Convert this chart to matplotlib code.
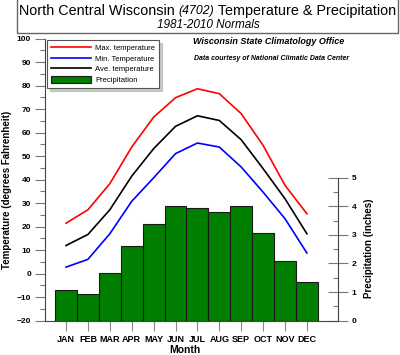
import matplotlib.pyplot as plt
from matplotlib.lines import Line2D
from matplotlib.patches import Patch, Rectangle
from matplotlib.ticker import MultipleLocator

months = ['JAN', 'FEB', 'MAR', 'APR', 'MAY', 'JUN', 'JUL', 'AUG', 'SEP', 'OCT', 'NOV', 'DEC']
month_num = list(range(1, 13))
max_temp = [21.5, 27.2, 38.3, 53.9, 66.6, 74.9, 78.7, 76.6, 68.1, 54.6, 37.6, 25.5]
min_temp = [2.8, 6.1, 17.0, 30.8, 40.8, 51.1, 55.6, 53.9, 45.4, 34.7, 23.4, 8.8]
ave_temp = [12.0, 16.7, 27.2, 41.5, 53.2, 62.7, 67.2, 65.2, 57.0, 44.7, 31.9, 17.0]
precip = [1.09, 0.94, 1.67, 2.61, 3.38, 4.02, 3.95, 3.81, 4.00, 3.08, 2.09, 1.35]

W, H = 400, 355
plt.rcParams['font.family'] = ['Liberation Sans', 'DejaVu Sans']

fig = plt.figure(figsize=(W / 100, H / 100), dpi=100)
fig.patch.set_facecolor('white')


def fx(px):
    return px / W


def fy(py):
    return 1 - py / H


ax = fig.add_axes([fx(45), fy(320.7), 293 / W, 282 / H])
ax2 = ax.twinx()
ax.set_zorder(ax2.get_zorder() + 1)
ax.patch.set_visible(False)

# temperatures
ax.plot(month_num, max_temp, color='red', lw=1.2)
ax.plot(month_num, ave_temp, color='black', lw=1.2)
ax.plot(month_num, min_temp, color='blue', lw=1.2)
ax.set_xlim(0.04, 13.42)
ax.set_ylim(-20, 100)

for s in ['top', 'right']:
    ax.spines[s].set_visible(False)
ax.spines['left'].set_color('#444444')
ax.spines['bottom'].set_color('#444444')
ax.yaxis.set_major_locator(MultipleLocator(10))
ax.yaxis.set_minor_locator(MultipleLocator(5))
ax.tick_params(axis='y', which='major', direction='out', length=7, width=0.8,
               color='#777777', labelsize=6, pad=3)
ax.tick_params(axis='y', which='minor', direction='out', length=3.5, width=0.8,
               color='#777777')
for lab in ax.get_yticklabels():
    lab.set_fontweight('bold')
ax.set_xticks(month_num)
ax.set_xticklabels(months, fontsize=6.5, fontweight='bold')
ax.tick_params(axis='x', direction='out', length=7, width=0.8, color='#888888', pad=3)

# precipitation
ax2.bar(month_num, precip, width=1.0, color='#007f00', edgecolor='#1a1a1a', lw=0.8)
ax2.set_ylim(0, 9.86)
for s in ['top', 'left', 'bottom']:
    ax2.spines[s].set_visible(False)
ax2.spines['right'].set_bounds(0, 5)
ax2.spines['right'].set_color('#444444')
ax2.set_yticks([0, 1, 2, 3, 4, 5])
ax2.set_yticks([0.5, 1.5, 2.5, 3.5, 4.5], minor=True)
ax2.tick_params(axis='y', which='major', direction='inout', length=14, width=0.8,
                color='#777777', labelsize=6, pad=3)
ax2.tick_params(axis='y', which='minor', direction='in', length=3.5, width=0.8,
                color='#777777')
for lab in ax2.get_yticklabels():
    lab.set_fontweight('bold')

# axis titles
fig.text(fx(7), fy(190), 'Temperature (degrees Fahrenheit)', rotation=90,
         ha='center', va='center', fontsize=7, fontweight='bold')
fig.text(fx(369), fy(248), 'Precipitation (inches)', rotation=90,
         ha='center', va='center', fontsize=7, fontweight='bold')
fig.text(fx(185), fy(350), 'Month', ha='center', va='center', fontsize=7.5,
         fontweight='bold')

# credits
fig.text(fx(269), fy(42), 'Wisconsin State Climatology Office', ha='center',
         va='center', fontsize=6.5, fontweight='bold', style='italic')
fig.text(fx(272), fy(58), 'Data courtesy of National Climatic Data Center',
         ha='center', va='center', fontsize=5, fontweight='bold', style='italic')

# title box
fig.patches.append(Rectangle((fx(16.7), fy(32.7)), (398 - 16.7) / W, 40 / H,
                             transform=fig.transFigure, fill=False,
                             edgecolor='#666666', lw=1))
renderer = fig.canvas.get_renderer()
parts = [('North Central Wisconsin ', 'normal', 10.4),
         ('(4702)', 'italic', 8.8),
         (' Temperature & Precipitation', 'normal', 10.4)]
x = 19
for txt, st, fs in parts:
    t = fig.text(fx(x), fy(11), txt, ha='left', va='center', fontsize=fs, style=st)
    bb = t.get_window_extent(renderer)
    x += bb.width
fig.text(fx(208), fy(25), '1981-2010 Normals', ha='center', va='center',
         fontsize=8.5, style='italic')

# legend
handles = [Line2D([], [], color='red', lw=1.2),
           Line2D([], [], color='blue', lw=1.2),
           Line2D([], [], color='black', lw=1.2),
           Patch(facecolor='#007f00', edgecolor='#1a1a1a', lw=0.8)]
labels = ['Max. temperature', 'Min. Temperature', 'Ave. temperature', 'Precipitation']
leg = ax.legend(handles, labels, loc='upper left', bbox_to_anchor=(fx(47), fy(40)),
                bbox_transform=fig.transFigure, borderaxespad=0, fontsize=5.5,
                handlelength=5.2, handleheight=1.0, labelspacing=0.35,
                fancybox=False, shadow={'color': '#999999'}, edgecolor='#555555',
                framealpha=1, borderpad=0.5, handletextpad=0.6)
leg.get_frame().set_linewidth(0.8)

fig.savefig('out.png', dpi=100)
